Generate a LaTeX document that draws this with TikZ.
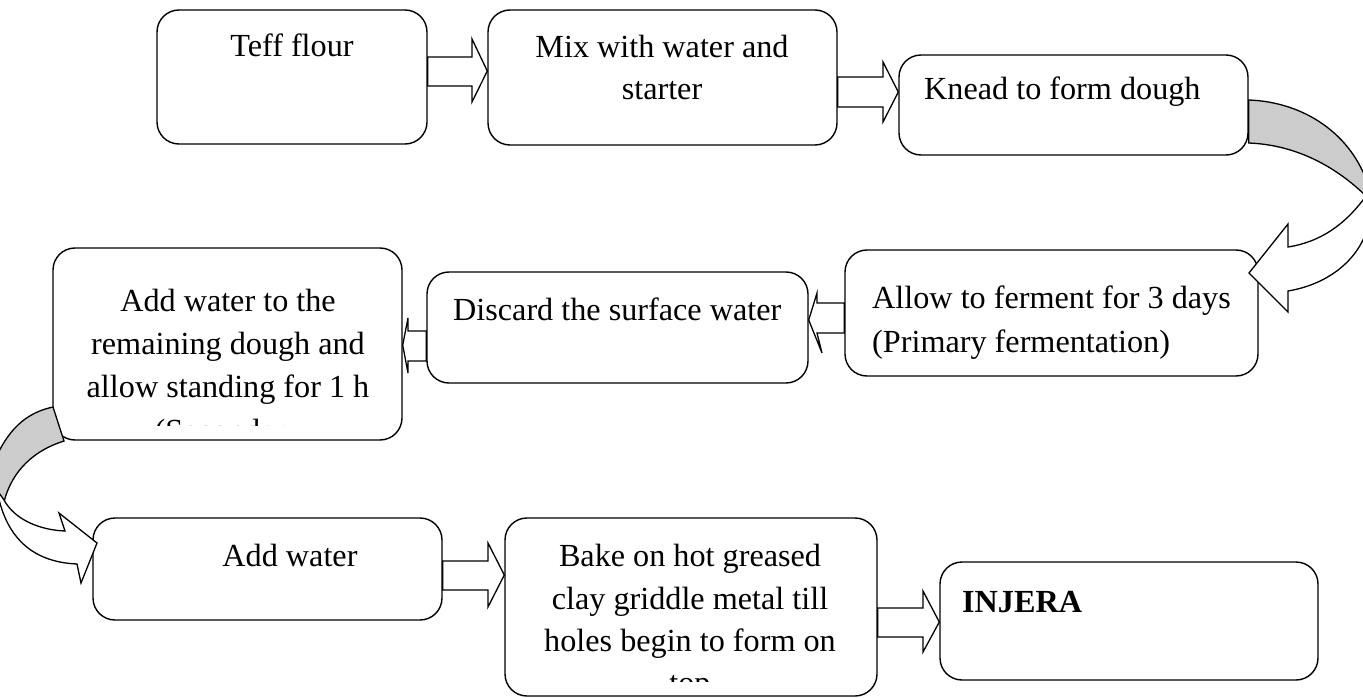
\documentclass[tikz,border=0pt]{standalone}
\usepackage{fontspec}
\setmainfont{Liberation Serif}
\begin{document}
\begin{tikzpicture}[x=1pt,y=-1pt,
  box/.style={draw,line width=1.4pt,rounded corners=22pt,fill=white,inner sep=0pt},
  blk/.style={draw,line width=1.3pt,fill=white,line join=miter},
  gblk/.style={draw,line width=1.3pt,fill=black!20,line join=miter},
  txt/.style={inner sep=0pt,anchor=base,font=\fontsize{32.2}{43}\selectfont},
  ltxt/.style={txt,anchor=base west}]
\useasboundingbox (0,0) rectangle (1363,698);
\clip (0,0) rectangle (1363,698);
% boxes
\node[box,minimum width=270pt,minimum height=134pt] (b1) at (292,77) {};
\node[box,minimum width=349pt,minimum height=135pt] (b2) at (662.5,77.5) {};
\node[box,minimum width=349pt,minimum height=100pt] (b3) at (1073.5,105) {};
\node[box,minimum width=413pt,minimum height=126pt] (b4) at (1051.5,313) {};
\node[box,minimum width=381pt,minimum height=111pt] (b5) at (617.5,327.5) {};
\node[box,minimum width=349pt,minimum height=192pt] (b6) at (227.5,344) {};
\node[box,minimum width=349pt,minimum height=102pt] (b7) at (267.5,569) {};
\node[box,minimum width=372pt,minimum height=178pt] (b8) at (691,607) {};
\node[box,minimum width=378pt,minimum height=118pt] (b9) at (1129,621) {};
% texts
\node[txt] (t1) at (292,57) {Teff flour};
\node[txt] (t2a) at (662,58) {Mix with water and};
\node[txt] (t2b) at (662,100) {starter};
\node[ltxt] (t3) at (924,100) {Knead to form dough};
\node[ltxt] (t4a) at (872,308) {Allow to ferment for 3 days};
\node[ltxt] (t4b) at (872,352) {(Primary fermentation)};
\node[ltxt] (t5) at (453,320) {Discard the surface water};
\node[txt] (t6a) at (228,311) {Add water to the};
\node[txt] (t6b) at (228,354) {remaining dough and};
\node[txt] (t6c) at (228,397) {allow standing for 1 h};
\begin{scope}
\clip (50,400) rectangle (405,425);
\node[txt] (t6d) at (228,441) {(Secondary};
\end{scope}
\node[txt] (t7) at (290,566) {Add water};
\node[txt] (t8a) at (690,566) {Bake on hot greased};
\node[txt] (t8b) at (690,609) {clay griddle metal till};
\node[txt] (t8c) at (690,651) {holes begin to form on};
\begin{scope}
\clip (500,660) rectangle (880,681);
\node[txt] (t8d) at (690,693) {top};
\end{scope}
\node[ltxt,font=\fontsize{32.2}{43}\selectfont\bfseries] (t9) at (962,612) {INJERA};
% straight block arrows
\draw[blk] (b1.east |- 0,57) -- (472,57) -- (472,39) -- (b2.west |- 0,71)
  -- (472,102) -- (472,86) -- (b1.east |- 0,86) -- cycle;
\draw[blk] (b2.east |- 0,77) -- (883,77) -- (883,62) -- (b3.west |- 0,92)
  -- (883,122) -- (883,107) -- (b2.east |- 0,107) -- cycle;
\draw[blk] (b4.west |- 0,303) -- (817,303) -- (817,293) -- (b5.east |- 0,320)
  -- (822,353) -- (817,333) -- (b4.west |- 0,333) -- cycle;
\draw[blk] (b5.west |- 0,331) -- (408,331) -- (408,318) -- (b6.east |- 0,345)
  -- (408,373) -- (408,361) -- (b5.west |- 0,361) -- cycle;
\draw[blk] (b7.east |- 0,561) -- (488,561) -- (488,543) -- (b8.west |- 0,575)
  -- (488,607) -- (488,590) -- (b7.east |- 0,590) -- cycle;
\draw[blk] (b8.east |- 0,608) -- (923,608) -- (923,591) -- (b9.west |- 0,622)
  -- (923,652) -- (923,637) -- (b8.east |- 0,637) -- cycle;
% curved arrow from b3 to b4
\coordinate (c3a) at (b3.east |- 0,100);
\coordinate (c3b) at (b3.east |- 0,143);
\coordinate (c4) at (1249,273);
\draw[gblk] (c3a) .. controls (1305,102) and (1352,135) .. (1368,185)
  -- (1368,198) .. controls (1340,170) and (1300,145) .. (c3b) -- cycle;
\draw[blk] (1366,196) .. controls (1345,225) and (1320,242) .. (1288,247)
  -- (1288,224) -- (c4) -- (1288,312) -- (1288,291)
  .. controls (1330,284) and (1360,258) .. (1368,226) -- cycle;
% curved arrow from b6 to b7
\coordinate (c6a) at (53,407);
\coordinate (c6b) at (64,441);
\coordinate (c7) at (97,543);
\draw[gblk] (c6a) -- (c6b) .. controls (35,450) and (12,470) .. (4,502)
  -- (-5,495) -- (-5,460) .. controls (10,425) and (30,412) .. (c6a) -- cycle;
\draw[blk] (4,500) .. controls (15,520) and (40,530) .. (65,531)
  -- (59,513) -- (c7) -- (81,583) -- (77,564)
  .. controls (30,562) and (5,535) .. (-3,490) -- cycle;
\end{tikzpicture}
\end{document}
